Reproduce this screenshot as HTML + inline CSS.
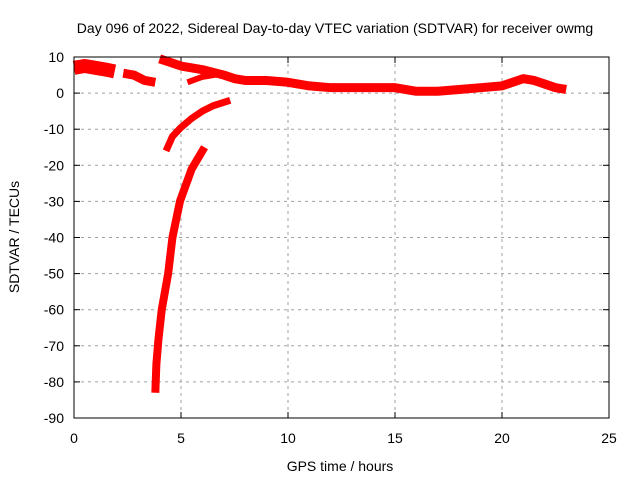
<!DOCTYPE html>
<html><head><meta charset="utf-8"><style>
body{margin:0;background:#fff}
text{font-family:"Liberation Sans",sans-serif;font-size:14px;fill:#000}
</style></head><body>
<svg id="c" width="640" height="480">
<text x="335" y="33" text-anchor="middle">Day 096 of 2022, Sidereal Day-to-day VTEC variation (SDTVAR) for receiver owmg</text>
<text x="340" y="471" text-anchor="middle">GPS time / hours</text>
<text transform="translate(19,237) rotate(-90)" text-anchor="middle">SDTVAR / TECUs</text>
<g id="grid"></g><g id="marks"></g>
<rect x="74" y="57" width="535" height="361" fill="none" stroke="#000"/>
</svg>
<script>
const xTicks=[0,5,10,15,20,25];
const yTicks=[10,0,-10,-20,-30,-40,-50,-60,-70,-80,-90];
const seg1X=[0,0.5,1,1.5,1.9];
const seg1Y=[7,7.5,7,6.5,6];
const seg2X=[2.3,2.8,3.3,3.8];
const seg2Y=[5.5,5,3.5,3];
const seg3X=[4,4.5,5,6,7,7.5,8,9,10,11,12,13,14,15,16,17,18,19,20,20.5,21,21.5,22,22.5,23];
const seg3Y=[9.5,8.5,7.5,6.5,5,4,3.5,3.5,3,2,1.5,1.5,1.5,1.5,0.5,0.5,1,1.5,2,3,4,3.5,2.5,1.5,1];
const seg4X=[5.3,6,7];
const seg4Y=[3,4.5,5.5];
const seg5X=[4.3,4.6,5,5.5,6,6.5,7.3];
const seg5Y=[-16,-12,-9.5,-7,-5,-3.5,-2];
const seg6X=[3.8,3.85,3.95,4.1,4.4,4.6,4.95,5.5,6.1];
const seg6Y=[-83,-75,-68,-60,-50,-40,-30,-21,-15];
const X=v=>74+v*535/25, Y=v=>57+(10-v)*361/100;
const NS='http://www.w3.org/2000/svg';
const g=document.getElementById('grid'), m=document.getElementById('marks');
function mk(tag,attrs,parent){const e=document.createElementNS(NS,tag);for(const k in attrs)e.setAttribute(k,attrs[k]);parent.appendChild(e);return e;}
xTicks.forEach(t=>{
  if(t>0&&t<25){const l=mk('line',{x1:X(t),x2:X(t),y1:57,y2:418,stroke:'#a0a0a0','stroke-dasharray':'3,4'},g);
  
  }
  const tx=mk('text',{x:X(t),y:443,'text-anchor':'middle'},g);tx.textContent=t;
  
  
  mk('line',{x1:X(t),x2:X(t),y1:418,y2:412,stroke:'#000'},g);
  mk('line',{x1:X(t),x2:X(t),y1:57,y2:63,stroke:'#000'},g);
});
yTicks.forEach(t=>{
  if(t<10&&t>-90){const l=mk('line',{x1:74,x2:609,y1:Y(t),y2:Y(t),stroke:'#a0a0a0','stroke-dasharray':'3,4'},g);
  
  }
  const tx=mk('text',{x:64,y:Y(t)+5,'text-anchor':'end'},g);tx.textContent=t;
  
  
  mk('line',{x1:74,x2:80,y1:Y(t),y2:Y(t),stroke:'#000'},g);
  mk('line',{x1:609,x2:603,y1:Y(t),y2:Y(t),stroke:'#000'},g);
});
function series(xs,ys,w,name){
  const p=mk('polyline',{points:xs.map((x,i)=>X(x)+','+Y(ys[i])).join(' '),fill:'none',stroke:'#f00','stroke-width':w,'stroke-linejoin':'round','stroke-linecap':'butt'},m);
  
  
}
series(seg1X,seg1Y,14,'sdtvar-segment-1');
series(seg2X,seg2Y,9,'sdtvar-segment-2');
series(seg3X,seg3Y,9,'sdtvar-segment-3');
series(seg4X,seg4Y,6,'sdtvar-segment-4');
series(seg5X,seg5Y,7,'sdtvar-segment-5');
series(seg6X,seg6Y,8,'sdtvar-segment-6');
</script>
</body></html>
